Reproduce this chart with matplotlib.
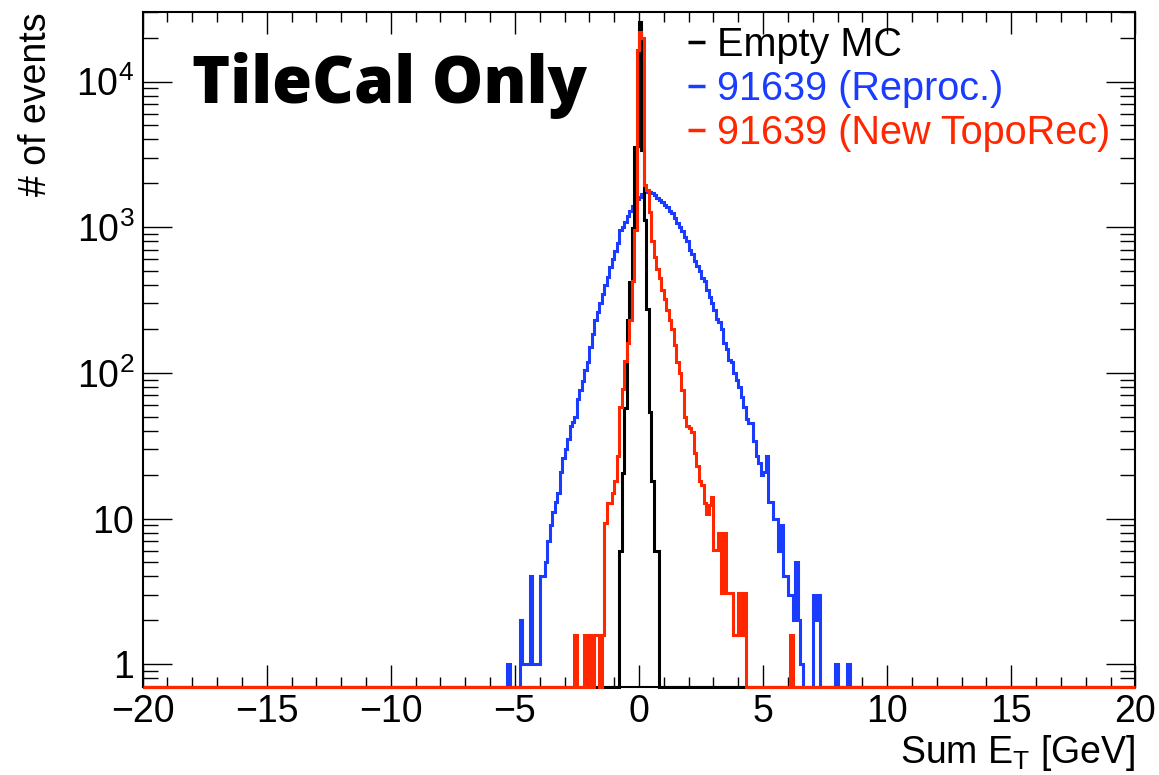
# TileCal sum ET comparison, ROOT-style log histogram
import numpy as np
import matplotlib
matplotlib.use("Agg")
import matplotlib.pyplot as plt
from matplotlib.lines import Line2D
from matplotlib.ticker import FixedLocator, FuncFormatter, MultipleLocator, LogLocator, NullFormatter

# histogram binning (0.1 GeV bins)
X_MIN, X_MAX, N_BINS = -20.0, 20.0, 400
Y_MIN, Y_MAX = 0.7, 3.0e4

# Empty MC, bins starting at -0.8 GeV
empty_start = -0.8
empty_counts = [6, 20.5, 57, 230, 420, 980, 3550, 3600, 25700, 3390,
                1120, 275, 54, 18, 6, 6]

# 91639 (Reproc.), bins starting at -5.3 GeV
reproc_start = -5.3
reproc_counts = [1, 0, 0, 0, 0, 2, 1, 1, 1, 4,
                 1, 1, 1, 4, 4, 5, 7, 9, 11, 13,
                 15, 21, 26, 30, 35, 43, 46, 50, 66, 76,
                 88, 104, 118, 150, 185, 230, 260, 300, 345, 400,
                 455, 530, 600, 690, 780, 950, 1010, 1080, 1200, 1300,
                 1400, 1480, 1560, 1620, 1690, 1740, 1750, 1740, 1720, 1660,
                 1590, 1540, 1480, 1420, 1370, 1300, 1250, 1150, 1070, 1000,
                 940, 860, 800, 700, 650, 590, 540, 500, 450, 430,
                 370, 330, 300, 270, 235, 225, 200, 160, 145, 122,
                 118, 100, 90, 80, 68, 58, 48, 45, 45, 34,
                 27, 24, 20, 21, 27, 13, 13, 10, 10, 6,
                 9, 4, 4, 3, 3, 2, 5, 2, 1, 0,
                 0, 0, 0, 3, 2, 3, 0, 0, 0, 0,
                 0, 0, 1, 0, 0, 0, 0, 1]

# 91639 (New TopoRec), bins starting at -2.6 GeV
topo_start = -2.6
topo_counts = [1.58, 0, 0, 0, 1.58, 0, 1.58, 0, 1.58, 1.58,
               0, 1.58, 9.3, 12.7, 12.7, 15, 18, 27, 58, 78,
               120, 160, 230, 430, 955, 16400, 21900, 20000, 1950, 1800,
               1270, 800, 620, 520, 450, 371, 320, 270, 230, 200,
               155, 118, 100, 76, 50, 43, 42, 39, 28, 23,
               18, 17, 12.7, 10.8, 12.4, 14, 6.1, 6.1, 7.9, 3.1,
               7.9, 3.1, 3.1, 3.1, 1.58, 1.58, 3.1, 1.58, 3.1, 0,
               0, 0, 0, 0, 0, 0, 0, 0, 0, 0,
               0, 0, 0, 0, 0, 0, 0, 1.58]

labels = ["Empty MC", "91639 (Reproc.)", "91639 (New TopoRec)"]
colors = ["black", "#1a3cff", "#ff2600"]

plt.rcParams["font.family"] = ["Liberation Sans", "DejaVu Sans"]
plt.rcParams["mathtext.fontset"] = "custom"
plt.rcParams["mathtext.rm"] = "Liberation Sans"
plt.rcParams["mathtext.it"] = "Liberation Sans:italic"
plt.rcParams["mathtext.bf"] = "Liberation Sans:bold"

FS = 27


def fill(start, counts):
    # put the non-empty range into the full 400 bin array
    edges = np.linspace(X_MIN, X_MAX, N_BINS + 1)
    vals = np.zeros(N_BINS)
    i0 = int(round((start - X_MIN) / (edges[1] - edges[0])))
    vals[i0:i0 + len(counts)] = counts
    # empty bins are drawn on the lower frame like ROOT does
    vals = np.where(vals > 0, vals, Y_MIN)
    return edges, vals


def ylabel_fmt(v, pos):
    if v < 1.5:
        return "1"
    if v < 15:
        return "10"
    return r"$10^{%d}$" % round(np.log10(v))


def main():
    fig = plt.figure(figsize=(11.59, 7.75), dpi=100)
    ax = fig.add_axes([0.1231, 0.1139, 0.8565, 0.8706])

    # draw order as in the original: blue, black, red on top
    for start, counts, col, z in [(reproc_start, reproc_counts, colors[1], 3),
                                  (empty_start, empty_counts, colors[0], 4),
                                  (topo_start, topo_counts, colors[2], 5)]:
        edges, vals = fill(start, counts)
        ax.stairs(vals, edges, baseline=None, color=col, lw=2.2,
                  zorder=z, clip_on=False)

    ax.set_xlim(X_MIN, X_MAX)
    ax.set_yscale("log")
    ax.set_ylim(Y_MIN, Y_MAX)

    # ticks
    ax.xaxis.set_major_locator(MultipleLocator(5))
    ax.xaxis.set_minor_locator(MultipleLocator(1))
    ax.yaxis.set_major_locator(FixedLocator([1, 10, 100, 1000, 10000]))
    ax.yaxis.set_major_formatter(FuncFormatter(ylabel_fmt))
    ax.yaxis.set_minor_locator(LogLocator(base=10, subs=np.arange(2, 10)))
    ax.yaxis.set_minor_formatter(NullFormatter())
    ax.tick_params(axis="both", which="both", direction="in",
                   top=True, right=True, labelsize=FS, width=1.0)
    ax.tick_params(axis="x", which="major", length=15.5, pad=5)
    ax.tick_params(axis="x", which="minor", length=7.5)
    ax.tick_params(axis="y", which="major", length=21, pad=6)
    ax.tick_params(axis="y", which="minor", length=10.5)
    for sp in ax.spines.values():
        sp.set_linewidth(1.5)
        sp.set_zorder(2)

    # axis titles at the ends, ROOT style
    ax.set_xlabel(r"Sum E$_\mathregular{T}$ [GeV]", fontsize=FS, loc="right")
    ax.xaxis.set_label_coords(1.0, -0.068)
    ax.set_ylabel("# of events", fontsize=FS, loc="top")
    ax.yaxis.set_label_coords(-0.089, 1.0)

    ax.text(0.0497, 0.865, "TileCal Only", transform=ax.transAxes,
            fontsize=46.5, fontweight=800, family=["Open Sans", "DejaVu Sans"],
            va="baseline", ha="left")

    handles = [Line2D([], [], color=c, lw=2.5, solid_capstyle="butt") for c in colors]
    ax.legend(handles, labels, loc="upper left", bbox_to_anchor=(0.549, 0.979),
              frameon=False, fontsize=28.5, handlelength=0.45, handletextpad=0.3,
              labelspacing=0.15, borderpad=0, borderaxespad=0,
              labelcolor="linecolor")

    fig.savefig("out.png", dpi=100)


if __name__ == "__main__":
    main()
